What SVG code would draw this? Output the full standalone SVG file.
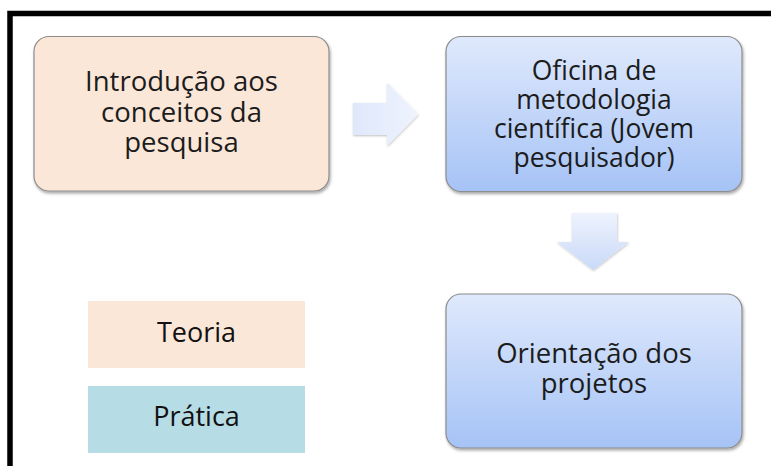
<svg xmlns="http://www.w3.org/2000/svg" width="771" height="466" viewBox="0 0 771 466">
<defs>
<linearGradient id="gBlue" x1="0" y1="0" x2="0" y2="1">
<stop offset="0" stop-color="#dfe9fc"/>
<stop offset="1" stop-color="#a6c3f6"/>
</linearGradient>
<linearGradient id="gArrowR" x1="0" y1="0" x2="1" y2="0">
<stop offset="0" stop-color="#dfe8fb"/>
<stop offset="1" stop-color="#eef3fd"/>
</linearGradient>
<linearGradient id="gArrowD" x1="0" y1="0" x2="0" y2="1">
<stop offset="0" stop-color="#eef3fd"/>
<stop offset="1" stop-color="#c9d9f8"/>
</linearGradient>
<filter id="sh" x="-10%" y="-10%" width="125%" height="130%">
<feDropShadow dx="1" dy="2" stdDeviation="1.5" flood-color="#000" flood-opacity="0.35"/>
</filter>
<filter id="shA" x="-10%" y="-10%" width="125%" height="130%">
<feDropShadow dx="0.5" dy="1" stdDeviation="1" flood-color="#000" flood-opacity="0.25"/>
</filter>
</defs>
<style>
.box{stroke:#8c8c8c;stroke-width:1.2}
.t{font-family:"Open Sans","Noto Sans","DejaVu Sans",sans-serif;font-size:27.5px;fill:#1c1c1c;text-anchor:middle}
.t2{font-size:26.5px}
.lg{font-family:"Open Sans","Noto Sans","DejaVu Sans",sans-serif;font-size:27px;fill:#111;text-anchor:middle}
</style>
<rect width="771" height="466" fill="#ffffff"/>
<path d="M10 466 V13.5 H771" fill="none" stroke="#000" stroke-width="5.5"/>
<g id="connectors">
<path d="M353 103 H387 V83 L418 114.5 L387 146 V135 H353 Z" fill="url(#gArrowR)" filter="url(#shA)"/>
<path d="M572 213 H617 V242 H629 L593 270 L557 242 H572 Z" fill="url(#gArrowD)" filter="url(#shA)"/>
</g>
<g id="node-introducao">
<rect class="box" x="34" y="36.5" width="295" height="154.5" rx="15" fill="#fbe7d8" filter="url(#sh)"/>
<text class="t" x="181.5" y="91">Introdução aos</text>
<text class="t" x="181.5" y="121.5">conceitos da</text>
<text class="t" x="181.5" y="151.5">pesquisa</text>
</g>
<g id="node-oficina">
<rect class="box" x="446" y="36.5" width="296" height="155" rx="15" fill="url(#gBlue)" filter="url(#sh)"/>
<text class="t t2" x="594" y="80">Oficina de</text>
<text class="t t2" x="594" y="109">metodologia</text>
<text class="t t2" x="594" y="138">científica (Jovem</text>
<text class="t t2" x="594" y="167">pesquisador)</text>
</g>
<g id="node-orientacao">
<rect class="box" x="446" y="294" width="296" height="154" rx="15" fill="url(#gBlue)" filter="url(#sh)"/>
<text class="t" x="594" y="363">Orientação dos</text>
<text class="t" x="594" y="393">projetos</text>
</g>
<g id="legend-teoria">
<rect x="88" y="301" width="217" height="67" fill="#fbe7d8"/>
<text class="lg" x="196.5" y="342">Teoria</text>
</g>
<g id="legend-pratica">
<rect x="88" y="386" width="217" height="67" fill="#b6dce6"/>
<text class="lg" x="196.5" y="426">Prática</text>
</g>
</svg>
